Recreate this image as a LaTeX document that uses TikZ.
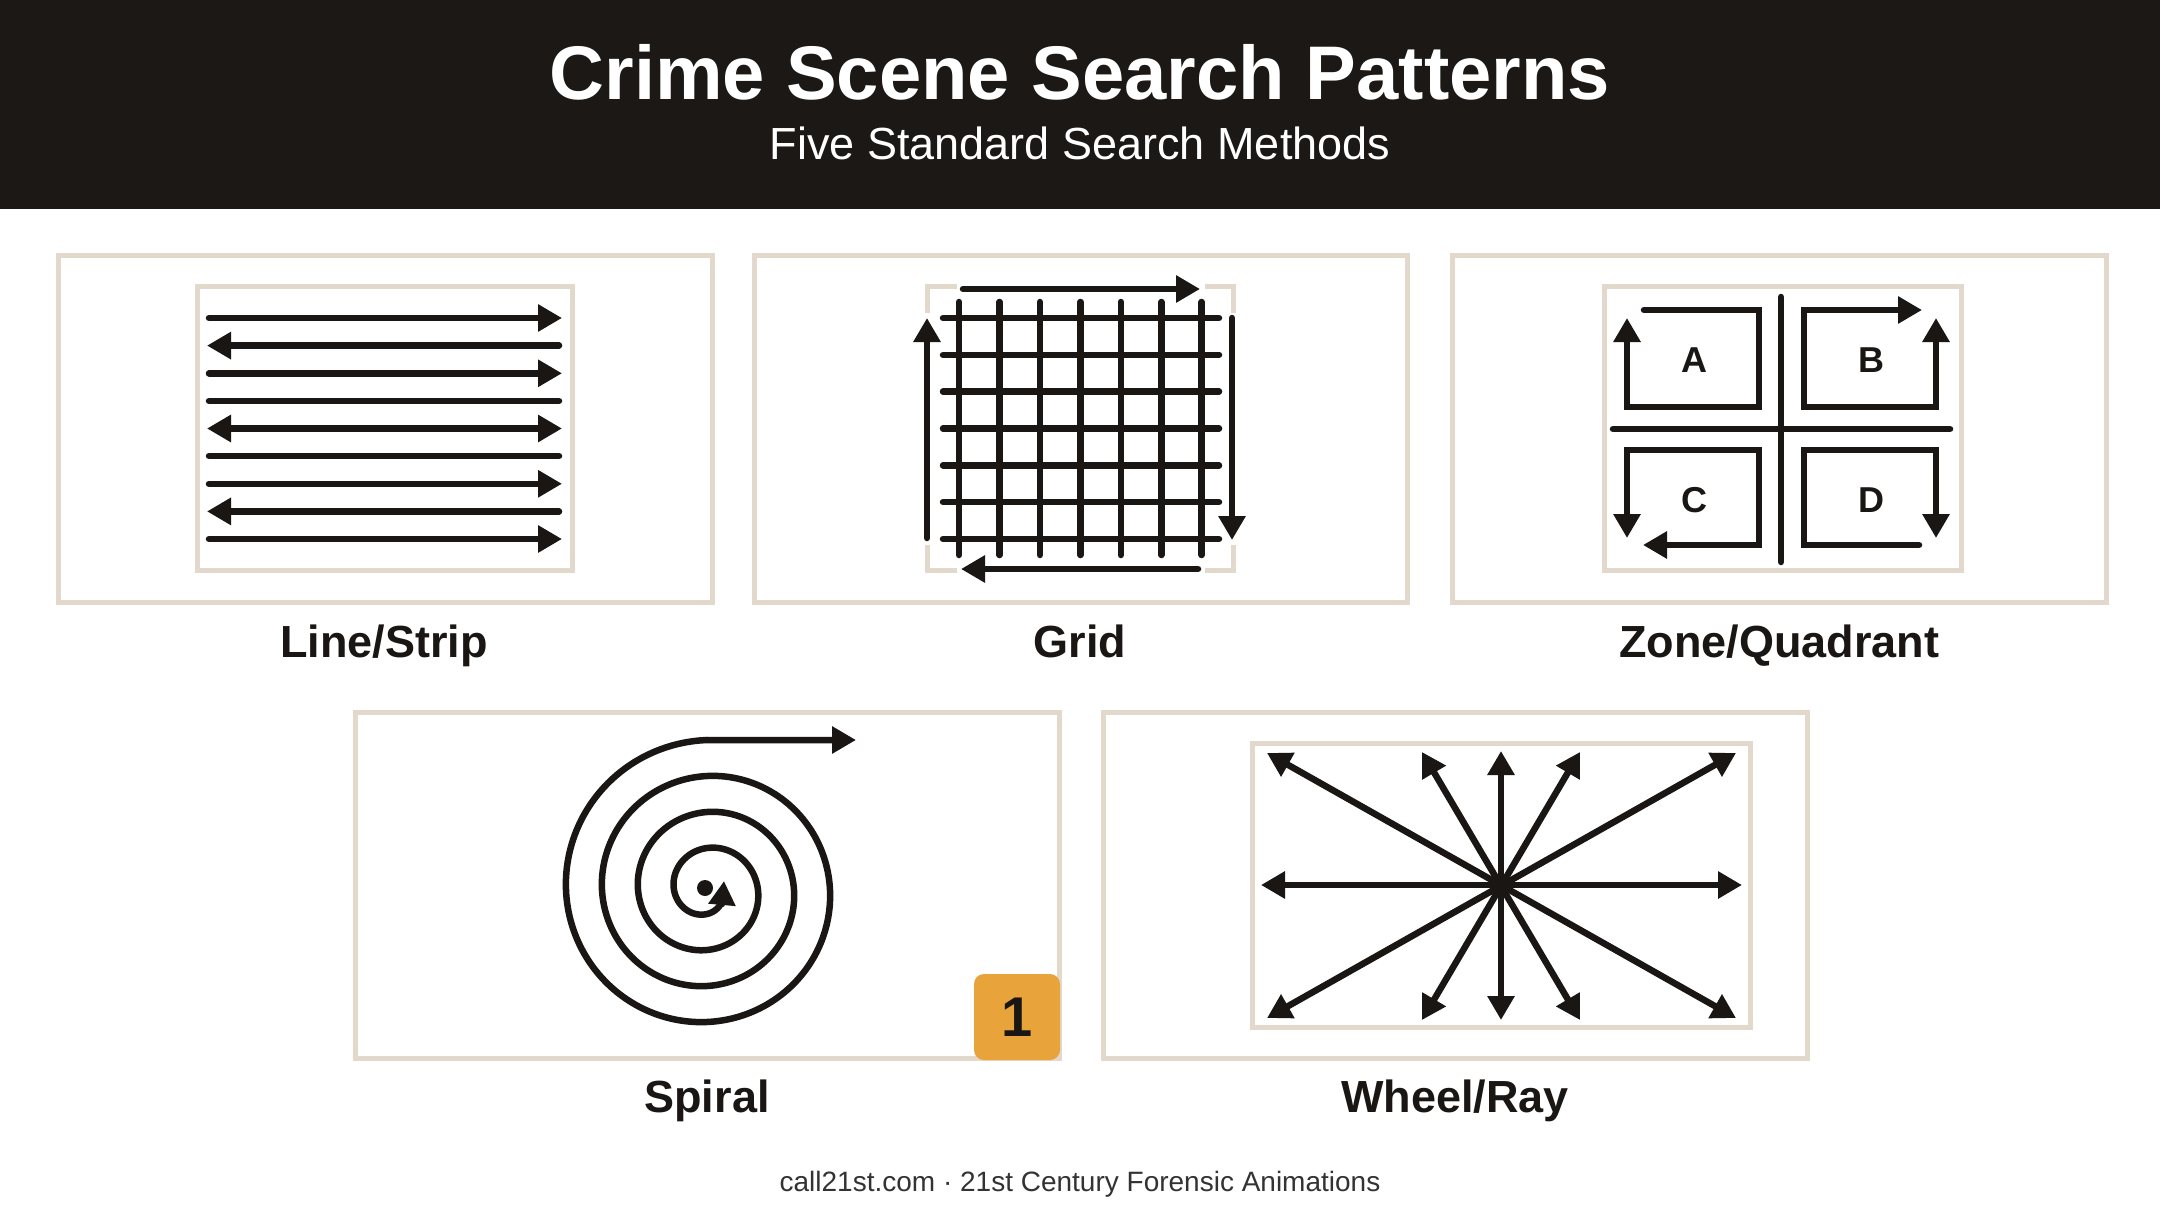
\documentclass[tikz,border=0pt]{standalone}
\usepackage{fontspec}
\setmainfont{Liberation Sans}
\usetikzlibrary{arrows.meta}
\definecolor{hdr}{HTML}{1C1816}
\definecolor{ink}{HTML}{1A1614}
\definecolor{beige}{HTML}{E2D8CB}
\definecolor{badgecol}{HTML}{E8A33A}
\definecolor{foot}{HTML}{333333}
\tikzset{
  tipA/.tip={Triangle[length=24pt,width=26pt]},
  panelbox/.style={draw=beige, line width=5pt},
  innerbox/.style={draw=beige, line width=5pt},
  stroke/.style={draw=ink, line width=6.5pt, line cap=round},
  arr/.style={-tipA},
  rarr/.style={tipA-},
  dbl/.style={tipA-tipA},
  lbl/.style={font=\fontsize{45}{50}\selectfont\bfseries, text=ink, anchor=base},
  letter/.style={font=\fontsize{36}{40}\selectfont\bfseries, text=ink},
}
\begin{document}
\begin{tikzpicture}[x=1pt,y=-1pt]
\useasboundingbox (0,0) rectangle (2160,1206);
\fill[white] (0,0) rectangle (2160,1206);
% header
\fill[hdr] (0,0) rectangle (2160,209);
\node[font=\fontsize{76}{80}\selectfont\bfseries, text=white, anchor=base] (title) at (1080,100) {Crime Scene Search Patterns};
\node[font=\fontsize{45}{50}\selectfont, text=white, anchor=base] (subtitle) at (1080,160) {Five Standard Search Methods};

% panel outlines
\draw[panelbox] (58,256) rectangle (712,602);
\draw[panelbox] (754,256) rectangle (1407,602);
\draw[panelbox] (1452,256) rectangle (2106,602);
\draw[panelbox] (355,712) rectangle (1059,1058);
\draw[panelbox] (1103,712) rectangle (1807,1058);

% ---- Line/Strip
\draw[innerbox] (197,287) rectangle (572,570);
\draw[stroke,arr]  (209,318) -- (562,318);
\draw[stroke,rarr] (207,345.6) -- (559,345.6);
\draw[stroke,arr]  (209,373.3) -- (562,373.3);
\draw[stroke]      (209,400.9) -- (559,400.9);
\draw[stroke,dbl]  (207,428.5) -- (562,428.5);
\draw[stroke]      (209,456.1) -- (559,456.1);
\draw[stroke,arr]  (209,483.8) -- (562,483.8);
\draw[stroke,rarr] (207,511.4) -- (559,511.4);
\draw[stroke,arr]  (209,539) -- (562,539);
\node[lbl] (l1) at (384,657) {Line/Strip};

% ---- Grid
\draw[innerbox] (957,287) -- (927,287) -- (927,313);
\draw[innerbox] (1205,287) -- (1233,287) -- (1233,313);
\draw[innerbox] (927,545) -- (927,570) -- (957,570);
\draw[innerbox] (1233,545) -- (1233,570) -- (1205,570);
\foreach \i in {0,...,6} {
  \draw[stroke] ({959+40.45*\i},302) -- ({959+40.45*\i},555);
  \draw[stroke] (943,{318+36.83*\i}) -- (1219,{318+36.83*\i});
}
\draw[stroke,arr] (963,289) -- (1200,289);
\draw[stroke,arr] (1232,318) -- (1232,540);
\draw[stroke,arr] (1198,569) -- (961,569);
\draw[stroke,arr] (927,538) -- (927,318);
\node[lbl] (l2) at (1080,657) {Grid};

% ---- Zone/Quadrant
\draw[innerbox] (1604,287) rectangle (1961,570);
\draw[stroke] (1781,297) -- (1781,562);
\draw[stroke] (1613,429) -- (1950,429);
\draw[stroke,arr] (1644,310) -- (1759,310) -- (1759,407) -- (1627,407) -- (1627,318);
\draw[stroke,dbl] (1922,310) -- (1804,310) -- (1804,407) -- (1936,407) -- (1936,318);
\draw[stroke,dbl] (1627,538) -- (1627,450) -- (1759,450) -- (1759,545) -- (1643,545);
\draw[stroke,arr] (1919,545) -- (1804,545) -- (1804,450) -- (1936,450) -- (1936,538);
\node[letter] (qa) at (1694,360) {A};
\node[letter] (qb) at (1871,360) {B};
\node[letter] (qc) at (1694,500) {C};
\node[letter] (qd) at (1871,500) {D};
\node[lbl] (l3) at (1779,657) {Zone/Quadrant};

% ---- Spiral
\draw[stroke,arr] plot[domain=35:1350, samples=400, smooth] ({707+(15+0.1*\x)*cos(\x)}, {890+(15+0.1*\x)*sin(\x)}) -- (856,740);
\draw[stroke,arr] (722,904) -- (724,881);
\fill[ink] (705,888) circle (8);
\fill[badgecol, rounded corners=10pt] (974,974) rectangle (1060,1060);
\node[font=\fontsize{56}{60}\selectfont\bfseries, text=ink] (badge) at (1017,1017) {1};
\node[lbl] (l4) at (707,1112) {Spiral};

% ---- Wheel/Ray
\draw[innerbox] (1252,743) rectangle (1750,1027);
\draw[stroke,dbl] (1261,885) -- (1742,885);
\draw[stroke,dbl] (1501,751) -- (1501,1020);
\draw[stroke,dbl] (1267,753) -- (1736,1018);
\draw[stroke,dbl] (1736,753) -- (1267,1018);
\draw[stroke,dbl] (1422,752) -- (1580,1020);
\draw[stroke,dbl] (1580,752) -- (1422,1020);
\fill[ink] (1501,885) circle (11);
\node[lbl] (l5) at (1455,1112) {Wheel/Ray};

% footer
\node[font=\fontsize{28}{32}\selectfont, text=foot, anchor=base] (footer) at (1080,1191) {call21st.com · 21st Century Forensic Animations};
\end{tikzpicture}
\end{document}
